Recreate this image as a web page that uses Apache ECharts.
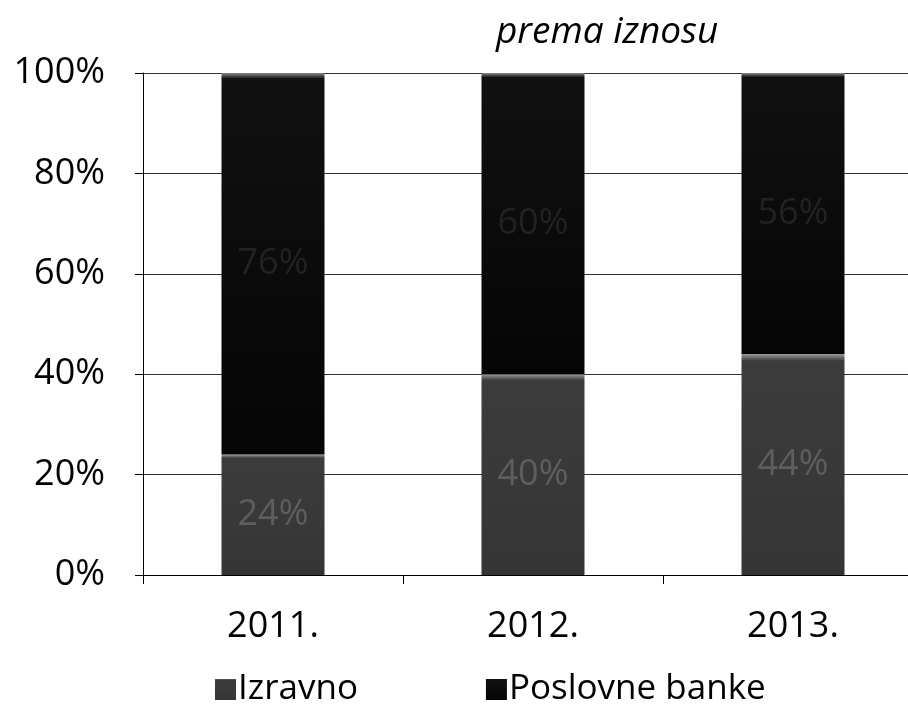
<!DOCTYPE html>
<html>
<head>
<meta charset="utf-8">
<script src="https://cdn.jsdelivr.net/npm/echarts@6/dist/echarts.min.js"></script>
<style>
html,body{margin:0;padding:0;background:#fff;}
#chart{width:908px;height:706px;}
</style>
</head>
<body>
<div id="chart"></div>
<script>
const categories = ['2011.', '2012.', '2013.'];
const izravno = [24, 40, 44];
const poslovneBanke = [76, 60, 56];
const yTicks = [0, 20, 40, 60, 80, 100];
const seriesNames = ['Izravno', 'Poslovne banke'];
const titleText = 'prema iznosu';

const FONT = '"Open Sans", sans-serif';
const chart = echarts.init(document.getElementById('chart'), null, {renderer: 'canvas'});

chart.setOption({
  backgroundColor: '#ffffff',
  animation: false,
  title: {
    text: titleText,
    left: 491,
    top: 9,
    textStyle: {fontFamily: FONT, fontStyle: 'italic', fontWeight: 'normal', fontSize: 37, color: '#000'}
  },
  legend: {
    data: seriesNames,
    bottom: -6,
    left: 210,
    itemWidth: 21,
    itemHeight: 21,
    itemGap: 128,
    icon: 'rect',
    textStyle: {fontFamily: FONT, fontSize: 35, color: '#000', padding: [0, 0, 0, -3]}
  },
  grid: {left: 143, width: 780, top: 73, bottom: 131, containLabel: false, outerBoundsMode: 'none'},
  xAxis: {
    type: 'category',
    data: categories,
    axisLine: {lineStyle: {color: '#000', width: 1}},
    axisTick: {show: true, alignWithLabel: false, length: 9, lineStyle: {color: '#000'}},
    axisLabel: {fontFamily: FONT, fontSize: 36, color: '#000', margin: 34}
  },
  yAxis: {
    type: 'value',
    min: 0,
    max: 100,
    interval: 20,
    axisLine: {show: true, lineStyle: {color: '#000', width: 1}},
    axisTick: {show: true, length: 8, inside: false, lineStyle: {color: '#000'}},
    splitLine: {show: true, lineStyle: {color: '#333', width: 1}},
    axisLabel: {
      fontFamily: FONT, fontSize: 36, color: '#000', margin: 38,
      formatter: function (v) { return yTicks.indexOf(v) >= 0 ? v + '%' : ''; }
    }
  },
  series: [
    {
      name: seriesNames[0],
      type: 'bar',
      stack: 'total',
      barWidth: 103,
      data: izravno,
      itemStyle: {
        color: new echarts.graphic.LinearGradient(0, 0, 0, 1, [
          {offset: 0, color: '#9a9a9a'},
          {offset: 0.03, color: '#3c3c3c'},
          {offset: 1, color: '#353535'}
        ])
      },
      label: {
        show: true, position: 'inside',
        formatter: '{c}%',
        fontFamily: FONT, fontSize: 36, color: '#5e5e5e'
      }
    },
    {
      name: seriesNames[1],
      type: 'bar',
      stack: 'total',
      barWidth: 103,
      data: poslovneBanke,
      itemStyle: {
        color: new echarts.graphic.LinearGradient(0, 0, 0, 1, [
          {offset: 0, color: '#8a8a8a'},
          {offset: 0.015, color: '#111111'},
          {offset: 1, color: '#050505'}
        ])
      },
      label: {
        show: true, position: 'inside',
        formatter: '{c}%',
        fontFamily: FONT, fontSize: 36, color: '#222222'
      }
    }
  ]
});
</script>
</body>
</html>
